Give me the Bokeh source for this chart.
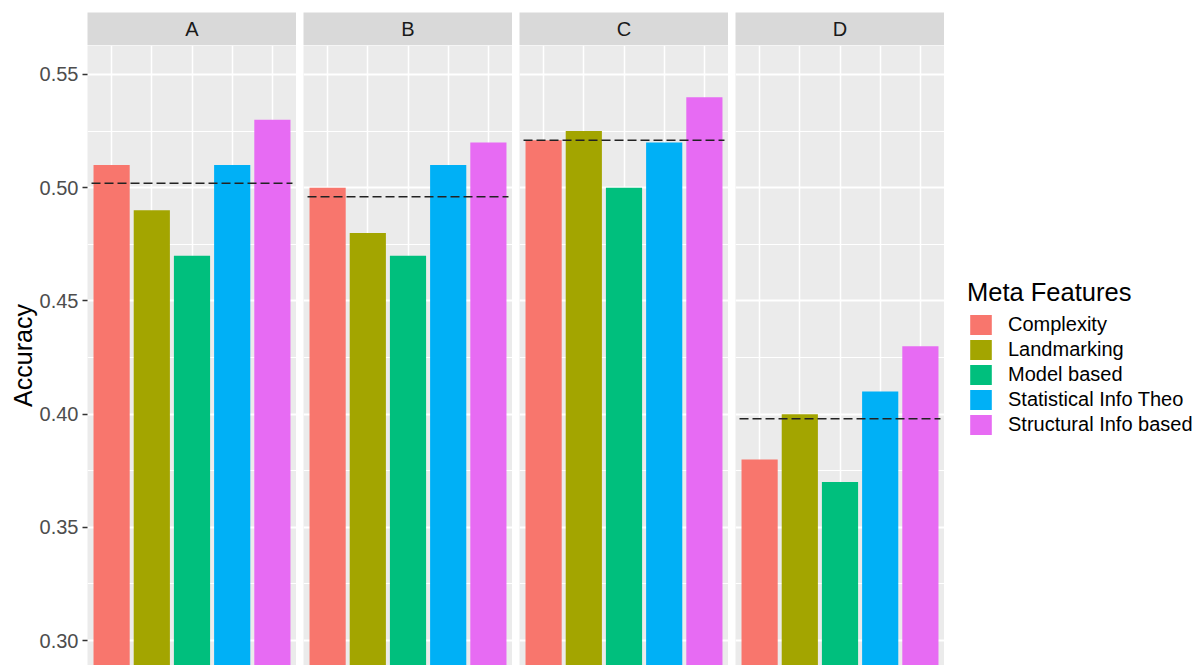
from bokeh.plotting import figure
from bokeh.models import (Range1d, FixedTicker, PrintfTickFormatter, ColumnDataSource,
                          Legend, LegendItem, Grid, LinearAxis)
from bokeh.layouts import row, column
from bokeh.embed import file_html
from bokeh.resources import INLINE
from bokeh.core.properties import value

# ---------------- data ----------------
panels = ["A", "B", "C", "D"]
features = ["Complexity", "Landmarking", "Model based",
            "Statistical Info Theo", "Structural Info based"]
colors = ["#F8766D", "#A3A500", "#00BF7D", "#00B0F6", "#E76BF3"]
acc_A = [0.510, 0.490, 0.470, 0.510, 0.530]
acc_B = [0.500, 0.480, 0.470, 0.510, 0.520]
acc_C = [0.521, 0.525, 0.500, 0.520, 0.540]
acc_D = [0.380, 0.400, 0.370, 0.410, 0.430]
baseline = [0.502, 0.496, 0.521, 0.398]
y_ticks = [0.30, 0.35, 0.40, 0.45, 0.50, 0.55]
y_minor = [0.275, 0.325, 0.375, 0.425, 0.475, 0.525]
y_label = "Accuracy"
legend_title = "Meta Features"

FONT = "Liberation Sans"
PANEL_W = 209
AXIS_W = 87
LEGEND_FIG_W = 246
MAIN_H = 620
STRIP_H = 33
TOP_PAD = 12


def bare(fig):
    fig.grid.visible = False
    fig.outline_line_color = None
    fig.border_fill_color = "white"


def make_strip(name, left):
    s = figure(width=left + PANEL_W, height=STRIP_H + TOP_PAD,
               x_range=Range1d(0, 1), y_range=Range1d(0, 1),
               x_axis_location=None, y_axis_location=None,
               output_backend="svg", toolbar_location=None,
               min_border_left=left, min_border_right=0,
               min_border_top=TOP_PAD, min_border_bottom=0)
    bare(s)
    s.background_fill_color = "#D9D9D9"
    s.text(x=[0.5], y=[0.5], text=[name], text_align="center",
           text_baseline="middle", text_font=value(FONT),
           text_font_size="20px", text_color="#1A1A1A")
    return s


def make_main(i, vals, left):
    n = len(features)
    xs = list(range(1, n + 1))
    p = figure(width=left + PANEL_W, height=MAIN_H,
               x_range=Range1d(0.4, n + 0.6), y_range=Range1d(0.2890, 0.5628),
               x_axis_location=None, y_axis_location=None,
               output_backend="svg", toolbar_location=None,
               min_border_left=left, min_border_right=0,
               min_border_top=0, min_border_bottom=0)
    bare(p)
    p.background_fill_color = "#EBEBEB"
    p.add_layout(Grid(dimension=0, ticker=FixedTicker(ticks=xs),
                      grid_line_color="white", grid_line_width=1.5))
    p.add_layout(Grid(dimension=1,
                      ticker=FixedTicker(ticks=y_ticks, minor_ticks=y_minor),
                      grid_line_color="white", grid_line_width=2,
                      minor_grid_line_color="white", minor_grid_line_width=1))
    src = ColumnDataSource(dict(x=xs, top=vals, color=colors, feature=features))
    p.vbar(x="x", top="top", bottom=0, width=0.9, fill_color="color",
           line_color=None, source=src)
    p.segment(x0=[0.5], x1=[n + 0.5], y0=[baseline[i]], y1=[baseline[i]],
              line_color="#222222", line_width=1.5, line_dash="9 4")
    return p


all_vals = [acc_A, acc_B, acc_C, acc_D]
mains = [make_main(i, all_vals[i], AXIS_W if i == 0 else 0)
         for i in range(len(panels))]

axis = LinearAxis(ticker=FixedTicker(ticks=y_ticks, minor_ticks=y_minor),
                  formatter=PrintfTickFormatter(format="%.2f"),
                  axis_label=y_label,
                  axis_line_color=None,
                  major_tick_line_color="#333333", major_tick_line_width=1.5,
                  major_tick_out=5, major_tick_in=0,
                  minor_tick_line_color=None,
                  major_label_text_font=FONT, major_label_text_font_size="20px",
                  major_label_text_color="#4D4D4D", major_label_standoff=4,
                  axis_label_text_font=FONT, axis_label_text_font_size="25px",
                  axis_label_text_font_style="normal",
                  axis_label_text_color="black", axis_label_standoff=0)
mains[0].add_layout(axis, "left")

# ---------------- legend (own figure) ----------------
lf = figure(width=LEGEND_FIG_W, height=MAIN_H + STRIP_H + TOP_PAD,
            x_range=Range1d(0, 1), y_range=Range1d(0, 1),
            x_axis_location=None, y_axis_location=None,
            output_backend="svg", toolbar_location=None,
            min_border=0)
bare(lf)
lf.background_fill_color = "white"
lsrc = ColumnDataSource(dict(x=list(range(1, len(features) + 1)), top=acc_D,
                             color=colors, feature=features))
lr = lf.vbar(x="x", top="top", bottom=0, width=0.9, fill_color="color",
             line_color=None, source=lsrc, visible=False)
legend = Legend(items=[LegendItem(label=value(f), renderers=[lr], index=k)
                       for k, f in enumerate(features)],
                title=legend_title, location=(16, 228),
                title_text_font=FONT, title_text_font_size="25.5px",
                title_text_color="black", title_text_font_style="normal",
                title_standoff=5,
                label_text_font=FONT, label_text_font_size="20px",
                label_text_color="black",
                glyph_width=27, glyph_height=25, spacing=0,
                label_standoff=14, padding=2, margin=0,
                border_line_color=None, background_fill_alpha=0,
                click_policy="none")
lf.add_layout(legend)

cols = []
for i, name in enumerate(panels):
    left = AXIS_W if i == 0 else 0
    cols.append(column(make_strip(name, left), mains[i], spacing=0))
cols.append(lf)

layout = row(*cols, spacing=7)

open("out.html", "w").write(file_html(layout, INLINE))
